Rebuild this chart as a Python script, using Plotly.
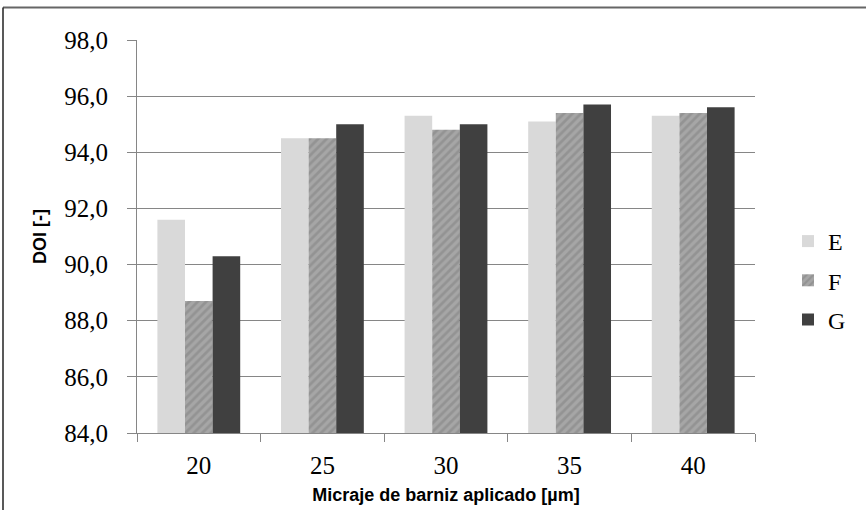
import plotly.graph_objects as go

categories = ["20", "25", "30", "35", "40"]
series_E = [91.6, 94.5, 95.3, 95.1, 95.3]
series_F = [88.7, 94.5, 94.8, 95.4, 95.4]
series_G = [90.3, 95.0, 95.0, 95.7, 95.6]
y_ticks = [84, 86, 88, 90, 92, 94, 96, 98]

W, H = 866, 510
L, R, T, B = 137, 111, 40, 77
pw, ph = W - L - R, H - T - B

fig = go.Figure()
fig.add_trace(go.Bar(name="E", x=categories, y=series_E, marker=dict(color="#d9d9d9", line=dict(width=0)),
                     legendgroup="E"))
fig.add_trace(go.Bar(name="F", x=categories, y=series_F,
                     marker=dict(color="#a6a6a6", line=dict(width=0),
                                 pattern=dict(shape="/", fgcolor="#7f7f7f", bgcolor="#a6a6a6", size=6, solidity=0.45)),
                     legendgroup="F"))
fig.add_trace(go.Bar(name="G", x=categories, y=series_G, marker=dict(color="#404040", line=dict(width=0)),
                     legendgroup="G"))

def px_x(p):
    return (p - L) / pw

def px_y(p):
    return (H - B - p) / ph

title_font = dict(family="Liberation Sans Narrow, Liberation Sans, Arial", size=18, color="#000")

fig.update_layout(
    width=W, height=H,
    margin=dict(l=L, r=R, t=T, b=B, pad=0),
    paper_bgcolor="white", plot_bgcolor="white",
    separators=",.",
    barmode="group", bargap=0.33, bargroupgap=0,
    font=dict(family="Liberation Serif", color="#000000"),
    legend=dict(x=px_x(788), y=px_y(219), xanchor="left", yanchor="top",
                font=dict(family="Liberation Serif", size=24, color="#000"),
                tracegroupgap=5, itemwidth=30, bgcolor="rgba(0,0,0,0)"),
    xaxis=dict(
        automargin=False,
        showline=True, linecolor="#868686", linewidth=1,
        ticks="outside", ticklen=8, tickcolor="#868686", tickson="boundaries",
        ticklabelstandoff=10,
        tickfont=dict(family="Liberation Serif", size=25, color="#000"),
        title=dict(text="<b>Micraje de barniz aplicado [µm]</b>", font=title_font, standoff=10),
        showgrid=False,
    ),
    yaxis=dict(
        automargin=False,
        range=[84, 98], tickvals=y_ticks, tickformat=".1f",
        showline=True, linecolor="#868686", linewidth=1,
        ticks="outside", ticklen=9, tickcolor="#868686",
        ticklabelstandoff=14,
        tickfont=dict(family="Liberation Serif", size=25, color="#000"),
        showgrid=True, gridcolor="#868686", gridwidth=1,
        zeroline=False,
        title=dict(text="<b>DOI [-]</b>", font=title_font, standoff=12),
    ),
    shapes=[
        dict(type="line", xref="paper", yref="paper", x0=px_x(3), x1=px_x(866), y0=px_y(7.5), y1=px_y(7.5),
             line=dict(color="#666666", width=2)),
        dict(type="line", xref="paper", yref="paper", x0=px_x(3), x1=px_x(3), y0=px_y(7.5), y1=px_y(510),
             line=dict(color="#222222", width=1.5)),
    ],
)

fig.write_html("out.html", config={"displayModeBar": False},
               post_script="document.body.style.margin='0px';")
